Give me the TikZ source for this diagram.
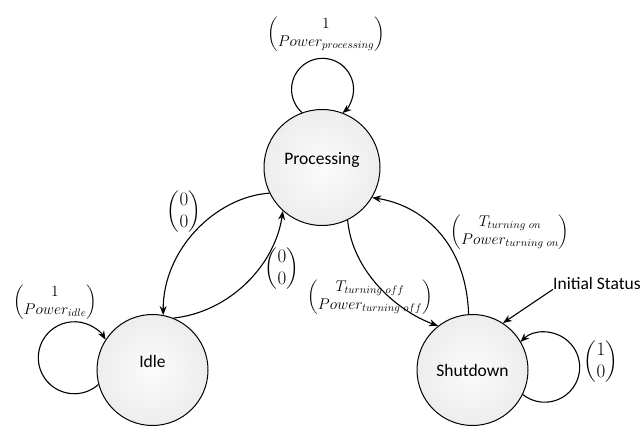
\documentclass[tikz,border=0pt]{standalone}
\usepackage{fix-cm}
\usepackage{amsmath}
\usepackage[no-math]{fontspec}
\setmainfont{Carlito}
\usetikzlibrary{arrows.meta}
\begin{document}
\begin{tikzpicture}[x=1pt,y=1pt,
  state/.style={circle, draw, line width=1pt, shading=radial, inner color=gray!3, outer color=gray!14,
    font=\fontsize{17.5}{20}\selectfont, inner sep=0pt},
  raised/.style={text height=12pt, text depth=17pt},
  edge/.style={line width=1.1pt, -{Stealth[length=9pt,width=7pt]}},
  lbl/.style={font=\fontsize{15.5}{18}\selectfont, inner sep=0pt},
  numlbl/.style={font=\fontsize{19}{22}\selectfont, inner sep=0pt}]
\useasboundingbox (0,0) rectangle (641,426);

\node[state, raised, minimum size=116pt] (P) at (322,258.5) {Processing};
\node[state, raised, minimum size=111pt] (I) at (152.5,56) {Idle};
\node[state, minimum size=111pt] (S) at (472.5,56) {Shutdown};

\node[anchor=west, font=\fontsize{17.5}{20}\selectfont, inner sep=0pt] (init) at (553,143) {Initial Status};

% transitions
\draw[edge] (P.206.6) .. controls (215,229) and (163,176) .. (I.79.6);
\draw[edge] (I.68.5) .. controls (230,114) and (275,161) .. (P.228.7);
\draw[edge] (P.296.4) .. controls (352,156) and (395,116) .. (S.128.3);
\draw[edge] (S.94.7) .. controls (466,186) and (420,221) .. (P.329.5);
\draw[edge] (init.south west) -- (S.57.6);

% self loops
\draw[edge] (P.110.5) arc[start angle=228.4, end angle=-50, radius=31];
\draw[edge] (I.195) arc[start angle=-48, end angle=-330, radius=36];
\draw[edge] (S.334) arc[start angle=231.4, end angle=494, radius=35];

% labels
\node[lbl] (lp) at (326,392) {$\begin{pmatrix}1\\ Power_{processing}\end{pmatrix}$};
\node[lbl] (li) at (55,124) {$\begin{pmatrix}1\\ Power_{idle}\end{pmatrix}$};
\node[numlbl] (la) at (184,214) {$\begin{pmatrix}0\\ 0\end{pmatrix}$};
\node[numlbl] (lb) at (282,157) {$\begin{pmatrix}0\\ 0\end{pmatrix}$};
\node[lbl] (loff) at (370,129) {$\begin{pmatrix}T_{turning\ off}\\ Power_{turning\ off}\end{pmatrix}$};
\node[lbl] (lon) at (510,194) {$\begin{pmatrix}T_{turning\ on}\\ Power_{turning\ on}\end{pmatrix}$};
\node[numlbl] (ls) at (601,64) {$\begin{pmatrix}1\\ 0\end{pmatrix}$};
\end{tikzpicture}
\end{document}
